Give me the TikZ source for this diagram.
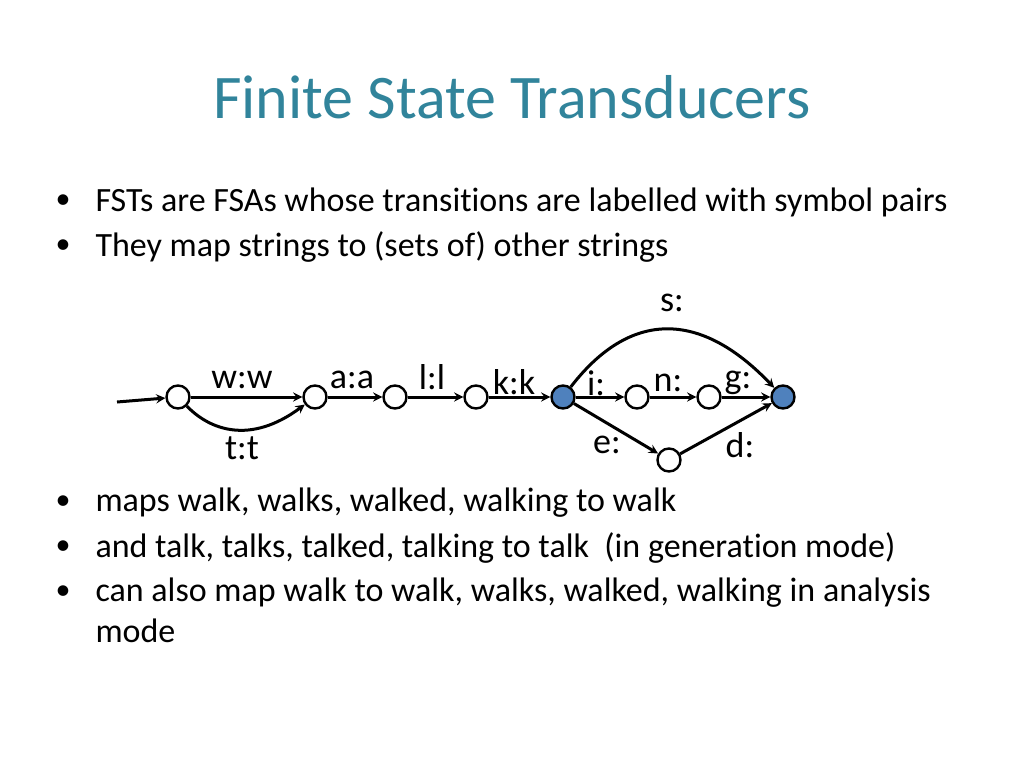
\documentclass[tikz,border=0pt]{standalone}
\usepackage{fontspec}
\setmainfont[Ligatures={NoCommon}]{Carlito}
\definecolor{ttl}{HTML}{31849B}
\definecolor{fst}{HTML}{4F81BD}
\begin{document}
\begin{tikzpicture}[x=1pt,y=-1pt,
  st/.style={circle,draw,line width=2.4pt,minimum size=23pt,inner sep=0pt},
  fin/.style={st,fill=fst},
  tr/.style={->,line width=3pt,>=stealth},
  lab/.style={font=\fontsize{36}{40}\selectfont},
  txt/.style={anchor=west,font=\fontsize{34}{44}\selectfont},
  bul/.style={font=\fontsize{30}{34}\selectfont}]
\useasboundingbox (0,0) rectangle (1024,768);
\node[font=\fontsize{62}{70}\selectfont,text=ttl] (title) at (512,97) {Finite State Transducers};
\node[bul] (b1) at (63,202) {•};
\node[txt] (t1) at (92,202) {FSTs are FSAs whose transitions are labelled with symbol pairs};
\node[bul] (b2) at (63,247) {•};
\node[txt] (t2) at (92,247) {They map strings to (sets of) other strings};
\node[bul] (b3) at (63,503) {•};
\node[txt] (t3) at (92,503) {maps walk, walks, walked, walking to walk};
\node[bul] (b4) at (63,548) {•};
\node[txt] (t4) at (92,548) {and talk, talks, talked, talking to talk\ \ (in generation mode)};
\node[bul] (b5) at (63,593) {•};
\node[txt] (t5) at (92,593) {can also map walk to walk, walks, walked, walking in analysis};
\node[txt] (t6) at (92,631) {mode};
\coordinate (s) at (117,402);
\node[st] (n0) at (178,397) {};
\node[st] (n1) at (315,397) {};
\node[st] (n2) at (395,397) {};
\node[st] (n3) at (476,397) {};
\node[fin] (n4) at (563,397) {};
\node[st] (n5) at (637,397) {};
\node[st] (n6) at (709,397) {};
\node[fin] (n7) at (783,397) {};
\node[st] (n8) at (669,460) {};
\draw[tr] (s) -- (n0);
\draw[tr] (n0) -- (n1);
\draw[tr] (n0) .. controls (210,430) and (250,445) .. (n1);
\draw[tr] (n1) -- (n2);
\draw[tr] (n2) -- (n3);
\draw[tr] (n3) -- (n4);
\draw[tr] (n4) -- (n5);
\draw[tr] (n5) -- (n6);
\draw[tr] (n6) -- (n7);
\draw[tr] (n4) -- (n8);
\draw[tr] (n8) -- (n7);
\draw[tr] (n4) .. controls (630,310) and (700,310) .. (n7);
\node[lab] (lw) at (242,380) {w:w};
\node[lab] (lt) at (242,448) {t:t};
\node[lab] (la) at (352,380) {a:a};
\node[lab] (ll) at (432,377) {l:l};
\node[lab] (lk) at (514,382) {k:k};
\node[lab] (li) at (596,383) {i:};
\node[lab] (ln) at (668,383) {n:};
\node[lab] (lg) at (738,383) {g:};
\node[lab] (ls) at (672,303) {s:};
\node[lab] (le) at (607,445) {e:};
\node[lab] (ld) at (740,445) {d:};
\end{tikzpicture}
\end{document}
